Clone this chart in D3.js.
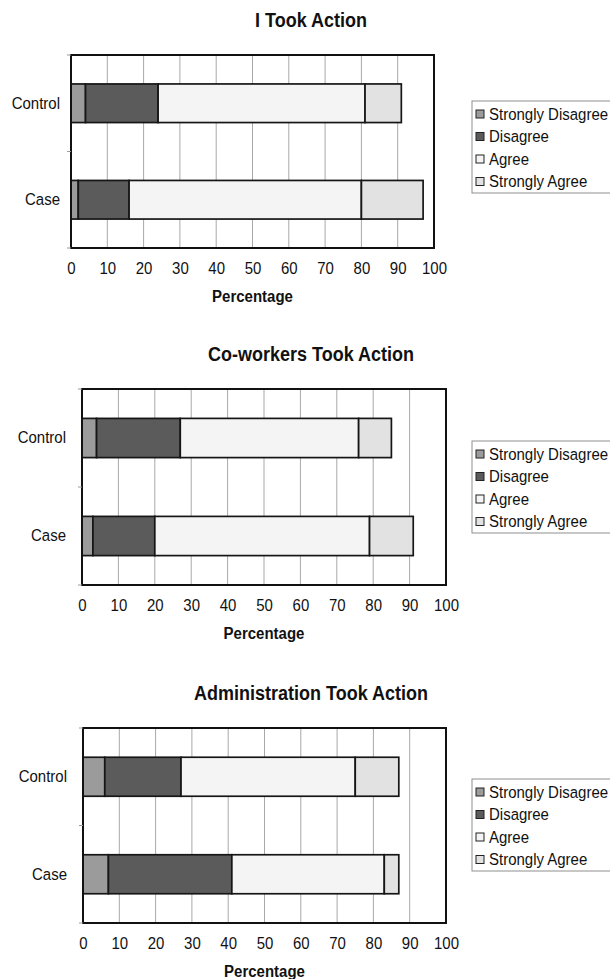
<!DOCTYPE html>
<html lang="en">
<head>
<meta charset="utf-8">
<title>Took Action</title>
<script src="https://cdn.jsdelivr.net/npm/d3@7"></script>
<style>
  body { margin: 0; background: #fff; }
  #chart text {
    font-family: "Liberation Sans", Arial, sans-serif;
    fill: #111;
    transform-box: fill-box;
    transform-origin: center;
    transform: scaleY(1.12);
  }
  .title { font-size: 18px; font-weight: bold; }
  .axis-title { font-size: 15px; font-weight: bold; }
  .axis text { font-size: 15px; }
  .legend text { font-size: 15px; }
</style>
</head>
<body>
<div id="chart"></div>
<script>
// data (percent of respondents)
const categories = ["Control", "Case"];
const responses = ["Strongly Disagree", "Disagree", "Agree", "Strongly Agree"];
const titles = ["I Took Action", "Co-workers Took Action", "Administration Took Action"];
const xTicks = [0, 10, 20, 30, 40, 50, 60, 70, 80, 90, 100];

const selfControl = [4, 20, 57, 10];
const selfCase = [2, 14, 64, 17];
const coworkersControl = [4, 23, 49, 9];
const coworkersCase = [3, 17, 59, 12];
const adminControl = [6, 21, 48, 12];
const adminCase = [7, 34, 42, 4];

const colors = ["#9b9b9b", "#5b5b5b", "#f4f4f4", "#e2e2e2"];

const W = 610, H = 979;

// panel placement
const panels = [
  {title: titles[0], rows: [selfControl, selfCase], x0: 71, x1: 434, y0: 55, y1: 248, gap: 11, legendTop: 101},
  {title: titles[1], rows: [coworkersControl, coworkersCase], x0: 82, x1: 446, y0: 389, y1: 585, gap: 16, legendTop: 441},
  {title: titles[2], rows: [adminControl, adminCase], x0: 83, x1: 446, y0: 728, y1: 923, gap: 16, legendTop: 779}
];

const svg = d3.select("#chart").append("svg")
    .attr("width", W)
    .attr("height", H);

panels.forEach(function(p) {
  var g = svg.append("g");

  var x = d3.scaleLinear().domain([0, 100]).range([p.x0, p.x1]);
  var y = d3.scaleBand().domain(categories).range([p.y0, p.y1])
            .paddingInner(0.6).paddingOuter(0.3);

  // vertical gridlines
  g.selectAll("line.grid")
   .data(xTicks)
   .enter()
   .append("line")
   .attr("class", "grid")
   .attr("x1", d => x(d)).attr("x2", d => x(d))
   .attr("y1", p.y0).attr("y2", p.y1)
   .attr("stroke", "#a8a8a8")
   .attr("stroke-width", 1);

  var table = categories.map(function(c, i) {
    var row = {cat: c};
    responses.forEach(function(r, j) { row[r] = p.rows[i][j]; });
    return row;
  });
  var series = d3.stack().keys(responses)(table);

  g.selectAll("g.series")
   .data(series)
   .enter()
   .append("g")
   .attr("fill", (d, i) => colors[i])
   .selectAll("rect")
   .data(d => d)
   .enter()
   .append("rect")
   .attr("x", d => x(d[0]))
   .attr("width", d => x(d[1]) - x(d[0]))
   .attr("y", d => y(d.data.cat))
   .attr("height", y.bandwidth())
   .attr("stroke", "#161616")
   .attr("stroke-width", 1.7);

  // plot frame
  g.append("rect")
   .attr("x", p.x0).attr("y", p.y0)
   .attr("width", p.x1 - p.x0).attr("height", p.y1 - p.y0)
   .attr("fill", "none")
   .attr("stroke", "#111")
   .attr("stroke-width", 2);

  // little ticks between categories
  var mid = (y(categories[0]) + y.bandwidth() + y(categories[1])) / 2;
  g.selectAll("line.ytick")
   .data([p.y0, mid, p.y1])
   .enter()
   .append("line")
   .attr("x1", p.x0 - 4).attr("x2", p.x0)
   .attr("y1", d => d).attr("y2", d => d)
   .attr("stroke", "#999");

  // category labels
  g.append("g")
   .attr("class", "axis")
   .attr("transform", "translate(" + p.x0 + ",0)")
   .call(d3.axisLeft(y).tickSize(0).tickPadding(p.gap))
   .call(a => a.select(".domain").remove());

  // x tick labels
  g.append("g")
   .attr("class", "axis")
   .attr("transform", "translate(0," + p.y1 + ")")
   .call(d3.axisBottom(x).tickValues(xTicks).tickSize(0).tickPadding(15))
   .call(a => a.select(".domain").remove());

  g.append("text")
   .attr("class", "axis-title")
   .attr("x", (p.x0 + p.x1) / 2)
   .attr("y", p.y1 + 53)
   .attr("text-anchor", "middle")
   .text("Percentage");

  g.append("text")
   .attr("class", "title")
   .attr("x", 311)
   .attr("y", p.y0 - 29)
   .attr("text-anchor", "middle")
   .text(p.title);

  // legend
  var lg = g.append("g").attr("class", "legend");
  lg.append("rect")
    .attr("x", 472).attr("y", p.legendTop)
    .attr("width", 160).attr("height", 92)
    .attr("fill", "#fff")
    .attr("stroke", "#8f8f8f");
  var item = lg.selectAll("g.item")
    .data(responses)
    .enter()
    .append("g")
    .attr("transform", (d, i) => "translate(0," + (p.legendTop + 13 + i * 22.5) + ")");
  item.append("rect")
    .attr("x", 476).attr("y", -4)
    .attr("width", 8).attr("height", 8)
    .attr("fill", (d, i) => colors[i])
    .attr("stroke", "#222");
  item.append("text")
    .attr("x", 489).attr("y", 5)
    .text(d => d);
});
</script>
</body>
</html>
